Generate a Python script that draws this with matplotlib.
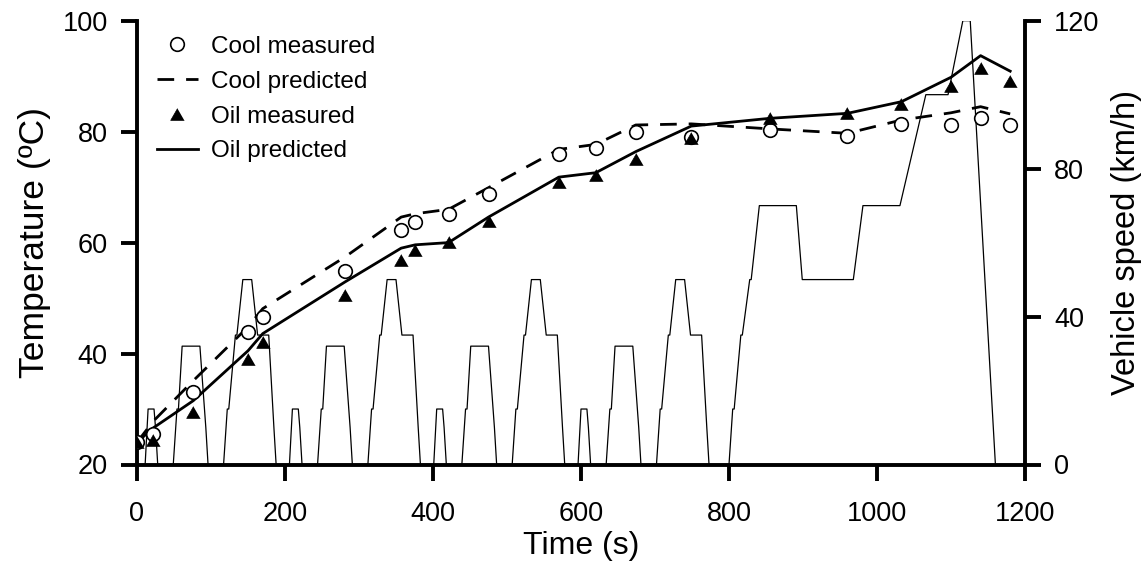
import matplotlib
matplotlib.use("Agg")
import matplotlib.pyplot as plt
import numpy as np

plt.rcParams['font.family'] = ['Liberation Sans', 'DejaVu Sans']

# Measurement / prediction times (s)
time_pts = [0, 22, 76, 150, 170, 281, 357, 376, 421, 475, 570, 620, 674, 749,
            855, 960, 1033, 1100, 1140, 1180]

cool_measured = [24.0, 25.5, 33.0, 43.8, 46.6, 54.9, 62.3, 63.7, 65.2, 68.8,
                 75.9, 77.1, 80.0, 79.1, 80.3, 79.2, 81.4, 81.2, 82.4, 81.2]
cool_predicted = [24.0, 27.8, 35.1, 44.8, 48.1, 57.4, 64.6, 65.2, 66.0, 69.9,
                  76.8, 77.7, 81.2, 81.4, 80.5, 79.7, 82.1, 83.4, 84.5, 83.2]
oil_measured = [24.0, 24.4, 29.5, 39.1, 42.1, 50.5, 56.8, 58.6, 60.1, 63.9,
                70.9, 72.1, 75.0, 78.9, 82.4, 83.3, 85.0, 88.2, 91.4, 89.2]
oil_predicted = [24.0, 26.6, 31.5, 40.5, 43.6, 52.9, 59.0, 59.6, 60.0, 64.6,
                 71.8, 72.6, 76.4, 81.0, 82.4, 83.3, 85.4, 89.8, 93.7, 90.9]

# Vehicle speed profile (NEDC) breakpoints
speed_time = [0, 11, 15, 23, 25, 28, 49, 54, 56, 61, 85, 93, 96, 117, 122, 124, 133, 135, 143, 155, 163, 178, 185, 188,
              195, 206, 210, 218, 220, 223, 244, 249, 251, 256, 280, 288, 291, 312, 317, 319, 328, 330, 338, 350, 358, 373, 380, 383,
              390, 401, 405, 413, 415, 418, 439, 444, 446, 451, 475, 483, 486, 507, 512, 514, 523, 525, 533, 545, 553, 568, 575, 578,
              585, 596, 600, 608, 610, 613, 634, 639, 641, 646, 670, 678, 681, 702, 707, 709, 718, 720, 728, 740, 748, 763, 770, 773,
              780, 800, 805, 807, 816, 818, 828, 830, 841, 891, 899, 968, 981, 1031, 1066, 1096, 1116, 1126, 1160, 1180]
speed_kmh = [0, 0, 15, 15, 10, 0, 0, 15, 15, 32, 32, 10, 0, 0, 15, 15, 35, 35, 50, 50, 35, 35, 10, 0,
             0, 0, 15, 15, 10, 0, 0, 15, 15, 32, 32, 10, 0, 0, 15, 15, 35, 35, 50, 50, 35, 35, 10, 0,
             0, 0, 15, 15, 10, 0, 0, 15, 15, 32, 32, 10, 0, 0, 15, 15, 35, 35, 50, 50, 35, 35, 10, 0,
             0, 0, 15, 15, 10, 0, 0, 15, 15, 32, 32, 10, 0, 0, 15, 15, 35, 35, 50, 50, 35, 35, 10, 0,
             0, 0, 15, 15, 35, 35, 50, 50, 70, 70, 50, 50, 70, 70, 100, 100, 120, 120, 0, 0]

x_ticks = [0, 200, 400, 600, 800, 1000, 1200]
temp_ticks = [20, 40, 60, 80, 100]
speed_ticks = [0, 40, 80, 120]

fig = plt.figure(figsize=(11.47, 5.70), dpi=100)
ax = fig.add_axes([137/1147, 1 - 464.5/570, (1025 - 137)/1147, (464.5 - 20.7)/570])
ax2 = ax.twinx()
ax.set_zorder(ax2.get_zorder() + 1)
ax.patch.set_visible(False)

ax2.plot(speed_time, speed_kmh, color='black', lw=0.9)

tri = [(0, 0.433), (-0.5, -0.433), (0.5, -0.433)]
ax.plot(time_pts, cool_predicted, color='black', lw=2.0, ls=(0, (6, 4.3)), label='Cool predicted', zorder=2)
ax.plot(time_pts, oil_predicted, color='black', lw=2.0, ls='-', label='Oil predicted', zorder=2)
ax.plot(time_pts, cool_measured, ls='none', marker='o', ms=9.8, mfc='white', mec='black', mew=1.2,
        label='Cool measured', zorder=3)
ax.plot(time_pts, oil_measured, ls='none', marker=tri, ms=9.8, mfc='black', mec='black', mew=0.5,
        label='Oil measured', zorder=4)

ax.set_xlim(0, 1200)
ax.set_ylim(20, 100)
ax2.set_ylim(0, 120)
ax.set_xticks(x_ticks)
ax.set_yticks(temp_ticks)
ax2.set_yticks(speed_ticks)

for a in (ax, ax2):
    a.spines['top'].set_visible(False)
    for s in a.spines.values():
        s.set_linewidth(2.8)
    a.tick_params(direction='out', length=11.5, width=2.8, labelsize=19.5, pad=9.5)
ax.spines['right'].set_visible(False)
ax2.spines['left'].set_visible(False)
ax2.spines['bottom'].set_visible(False)
ax.tick_params(axis='x', pad=14.5)

ax.set_xlabel('Time (s)', fontsize=23, labelpad=3)
ax.set_ylabel('Temperature (ºC)', fontsize=25.5, labelpad=8.5)
ax2.set_ylabel('Vehicle speed (km/h)', fontsize=23.5, labelpad=8)

h, l = ax.get_legend_handles_labels()
order = ['Cool measured', 'Cool predicted', 'Oil measured', 'Oil predicted']
hd = dict(zip(l, h))
ax.legend([hd[k] for k in order], order, loc='upper left', bbox_to_anchor=(0.0113, 0.988),
          borderaxespad=0, frameon=False, fontsize=17.5, handlelength=1.7,
          handletextpad=0.55, labelspacing=0.53)

fig.savefig('out.png', dpi=100)
